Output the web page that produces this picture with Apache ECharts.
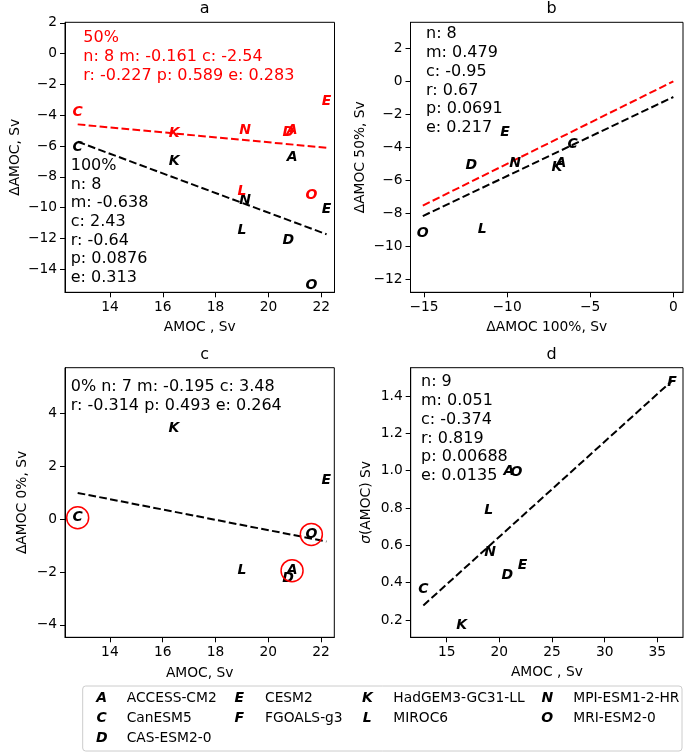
<!DOCTYPE html>
<html>
<head>
<meta charset="utf-8">
<script src="https://cdn.jsdelivr.net/npm/echarts@6/dist/echarts.min.js"></script>
<style>
html, body { margin: 0; padding: 0; background: #fff; }
#chartmain { width: 685px; height: 752px; }
</style>
</head>
<body>
<div id="chartmain"></div>
<script>
// model letters and names
var models = ['A', 'C', 'D', 'E', 'F', 'K', 'L', 'N', 'O'];
var modelNames = ['ACCESS-CM2', 'CanESM5', 'CAS-ESM2-0', 'CESM2', 'FGOALS-g3',
	'HadGEM3-GC31-LL', 'MIROC6', 'MPI-ESM1-2-HR', 'MRI-ESM2-0'];

// values (null = not in that panel)
var amoc = [20.9, 12.78, 20.75, 22.2, 36.4, 16.43, 19.0, 19.12, 21.63];
var dAmoc100 = [-6.76, -6.06, -12.15, -10.13, null, -7.0, -11.5, -9.52, -15.07];
var dAmoc50 = [-4.97, -3.83, -5.1, -3.08, null, -5.21, -8.95, -4.96, -9.2];
var dAmoc0 = [-1.95, 0.05, -2.24, 1.45, null, 3.43, -1.95, null, -0.58];
var sigmaAmoc = [0.994, 0.364, 0.437, 0.493, 1.473, 0.17, 0.79, 0.56, 0.99];
var circled0 = ['A', 'C', 'O'];

// fit lines [m, c]
var fit100 = [-0.638, 2.43];
var fit50 = [-0.161, -2.54];
var fitB = [0.479, -0.95];
var refB = [0.5, 0];
var fit0 = [-0.195, 3.48];
var fitD = [0.051, -0.374];

var statsA50 = '50%\nn: 8 m: -0.161 c: -2.54\nr: -0.227 p: 0.589 e: 0.283';
var statsA100 = '100%\nn: 8\nm: -0.638\nc: 2.43\nr: -0.64\np: 0.0876\ne: 0.313';
var statsB = 'n: 8\nm: 0.479\nc: -0.95\nr: 0.67\np: 0.0691\ne: 0.217';
var statsC = '0% n: 7 m: -0.195 c: 3.48\nr: -0.314 p: 0.493 e: 0.264';
var statsD = 'n: 9\nm: 0.051\nc: -0.374\nr: 0.819\np: 0.00688\ne: 0.0135';

// tick labels
var xTicksAmoc = [14, 16, 18, 20, 22];
var yTicksA = [-14, -12, -10, -8, -6, -4, -2, 0, 2];
var xTicksB = [-15, -10, -5, 0];
var yTicksB = [-12, -10, -8, -6, -4, -2, 0, 2];
var yTicksC = [-4, -2, 0, 2, 4];
var xTicksD = [15, 20, 25, 30, 35];
var yTicksD = [0.2, 0.4, 0.6, 0.8, 1.0, 1.2, 1.4];

var FONT = 'DejaVu Sans';
var RED = '#ff0000';

function pts(xs, ys, only) {
	var out = [];
	for (var i = 0; i < models.length; i++) {
		if (xs[i] == null || ys[i] == null) continue;
		if (only && only.indexOf(models[i]) < 0) continue;
		out.push({ name: models[i], value: [xs[i], ys[i]] });
	}
	return out;
}
function xRange(xs, ys) {
	var v = [];
	for (var i = 0; i < xs.length; i++) if (xs[i] != null && ys[i] != null) v.push(xs[i]);
	return [Math.min.apply(null, v), Math.max.apply(null, v)];
}
function fitLine(fit, r) {
	return [[r[0], fit[0] * r[0] + fit[1]], [r[1], fit[0] * r[1] + fit[1]]];
}
function minus(v) { return String(v).replace('-', '\u2212'); }

function axis(gi, min, max, ticks, name, gap, fmt) {
	return {
		type: 'value', gridIndex: gi, min: min, max: max,
		name: name, nameLocation: 'middle', nameGap: gap,
		nameTextStyle: { color: '#000', fontSize: 13.8, fontFamily: FONT,
			rich: { i: { fontStyle: 'italic', fontSize: 13.8, fontFamily: FONT, color: '#000' } } },
		axisLine: { show: true, onZero: false, lineStyle: { color: '#000', width: 1 } },
		axisTick: { show: true, length: 5, customValues: ticks, lineStyle: { color: '#000', width: 1 } },
		axisLabel: { customValues: ticks, color: '#000', fontSize: 13.8, fontFamily: FONT, margin: 8,
			formatter: fmt || function(v) { return minus(v); } },
		splitLine: { show: false }
	};
}

function letters(gi, data, color) {
	return {
		type: 'scatter', xAxisIndex: gi, yAxisIndex: gi, data: data,
		symbol: 'circle', symbolSize: 2, silent: true, z: 4,
		itemStyle: { color: 'rgba(0,0,0,0)', opacity: 1 },
		label: { show: true, position: 'inside', formatter: '{b}', color: color, opacity: 1,
			fontSize: 14, fontStyle: 'italic', fontWeight: 'bold', fontFamily: FONT }
	};
}
function dashed(gi, data, color) {
	return {
		type: 'line', xAxisIndex: gi, yAxisIndex: gi, data: data,
		symbol: 'none', silent: true, z: 3,
		lineStyle: { color: color, width: 2, type: [7.7, 3.3] }
	};
}
function statText(x, y, text, color) {
	return { type: 'text', x: x, y: y, z: 10,
		style: { text: text, fill: color, fontSize: 16, fontFamily: FONT, lineHeight: 18.7 } };
}

// legend built from the model arrays
var legendCols = [[0, 1, 2], [3, 4], [5, 6], [7, 8]];
var legendMarkX = [101.7, 239.3, 367.3, 547.3];
var legendTextX = [126.7, 265, 393.3, 573.3];
var legendRowY = [698.7, 718.7, 738.7];

var graphics = [
	statText(83.3, 28.9, statsA50, RED),
	statText(70.7, 156.3, statsA100, '#000'),
	statText(426, 24.9, statsB, '#000'),
	statText(70.7, 377.3, statsC, '#000'),
	statText(421, 372.9, statsD, '#000'),
	{ type: 'rect', shape: { x: 82.7, y: 686, width: 599.3, height: 65, r: 3 },
		style: { fill: '#fff', stroke: '#cccccc', lineWidth: 1 }, z: 5 }
];
legendCols.forEach(function(col, c) {
	col.forEach(function(mi, r) {
		graphics.push({ type: 'text', x: legendMarkX[c], y: legendRowY[r], z: 6,
			style: { text: models[mi], fill: '#000', fontSize: 14, fontStyle: 'italic', fontWeight: 'bold',
				fontFamily: FONT, align: 'center', verticalAlign: 'middle' } });
		graphics.push({ type: 'text', x: legendTextX[c], y: legendRowY[r], z: 6,
			style: { text: modelNames[mi], fill: '#000', fontSize: 13.8,
				fontFamily: FONT, align: 'left', verticalAlign: 'middle' } });
	});
});

var titleStyle = { color: '#000', fontSize: 16, fontWeight: 'normal', fontFamily: FONT };

var option = {
	animation: false,
	backgroundColor: '#fff',
	title: [
		{ text: 'a', left: 199.7, top: -4, textAlign: 'center', textStyle: titleStyle },
		{ text: 'b', left: 546.7, top: -4, textAlign: 'center', textStyle: titleStyle },
		{ text: 'c', left: 199.7, top: 342, textAlign: 'center', textStyle: titleStyle },
		{ text: 'd', left: 546.7, top: 342, textAlign: 'center', textStyle: titleStyle }
	],
	grid: [
		{ left: 65, top: 22.3, width: 269.5, height: 270, show: true, borderColor: '#000', borderWidth: 1 },
		{ left: 410.5, top: 22.3, width: 272.5, height: 270, show: true, borderColor: '#000', borderWidth: 1 },
		{ left: 65, top: 367.7, width: 269.3, height: 269.6, show: true, borderColor: '#000', borderWidth: 1 },
		{ left: 410.7, top: 367.7, width: 272.3, height: 269.6, show: true, borderColor: '#000', borderWidth: 1 }
	],
	xAxis: [
		axis(0, 12.3, 22.5, xTicksAmoc, 'AMOC , Sv', 28.5),
		axis(1, -15.81, 0.58, xTicksB, '\u0394AMOC 100%, Sv', 28.5),
		axis(2, 12.3, 22.5, xTicksAmoc, 'AMOC, Sv', 29),
		axis(3, 11.58, 37.44, xTicksD, 'AMOC , Sv', 28.5)
	],
	yAxis: [
		axis(0, -15.5, 2.03, yTicksA, '\u0394AMOC, Sv', 43),
		axis(1, -12.79, 3.58, yTicksB, '\u0394AMOC 50%, Sv', 43.5),
		axis(2, -4.47, 5.72, yTicksC, '\u0394AMOC 0%, Sv', 36),
		axis(3, 0.107, 1.552, yTicksD, '{i|\u03c3}(AMOC) Sv', 37, function(v) { return v.toFixed(1); })
	],
	graphic: graphics,
	series: [
		dashed(0, fitLine(fit50, xRange(amoc, dAmoc50)), RED),
		dashed(0, fitLine(fit100, xRange(amoc, dAmoc100)), '#000'),
		letters(0, pts(amoc, dAmoc100), '#000'),
		letters(0, pts(amoc, dAmoc50), RED),

		dashed(1, fitLine(refB, [xRange(dAmoc100, dAmoc50)[0], 0]), RED),
		dashed(1, fitLine(fitB, [xRange(dAmoc100, dAmoc50)[0], 0]), '#000'),
		letters(1, pts(dAmoc100, dAmoc50), '#000'),

		dashed(2, fitLine(fit0, xRange(amoc, dAmoc0)), '#000'),
		letters(2, pts(amoc, dAmoc0), '#000'),
		{
			type: 'scatter', xAxisIndex: 2, yAxisIndex: 2, data: pts(amoc, dAmoc0, circled0),
			symbol: 'circle', symbolSize: 22, silent: true, z: 5,
			itemStyle: { color: 'rgba(0,0,0,0)', borderColor: RED, borderWidth: 1.5, opacity: 1 }
		},

		dashed(3, fitLine(fitD, xRange(amoc, sigmaAmoc)), '#000'),
		letters(3, pts(amoc, sigmaAmoc), '#000')
	]
};

var myChart = echarts.init(document.getElementById('chartmain'));
myChart.setOption(option);
</script>
</body>
</html>
